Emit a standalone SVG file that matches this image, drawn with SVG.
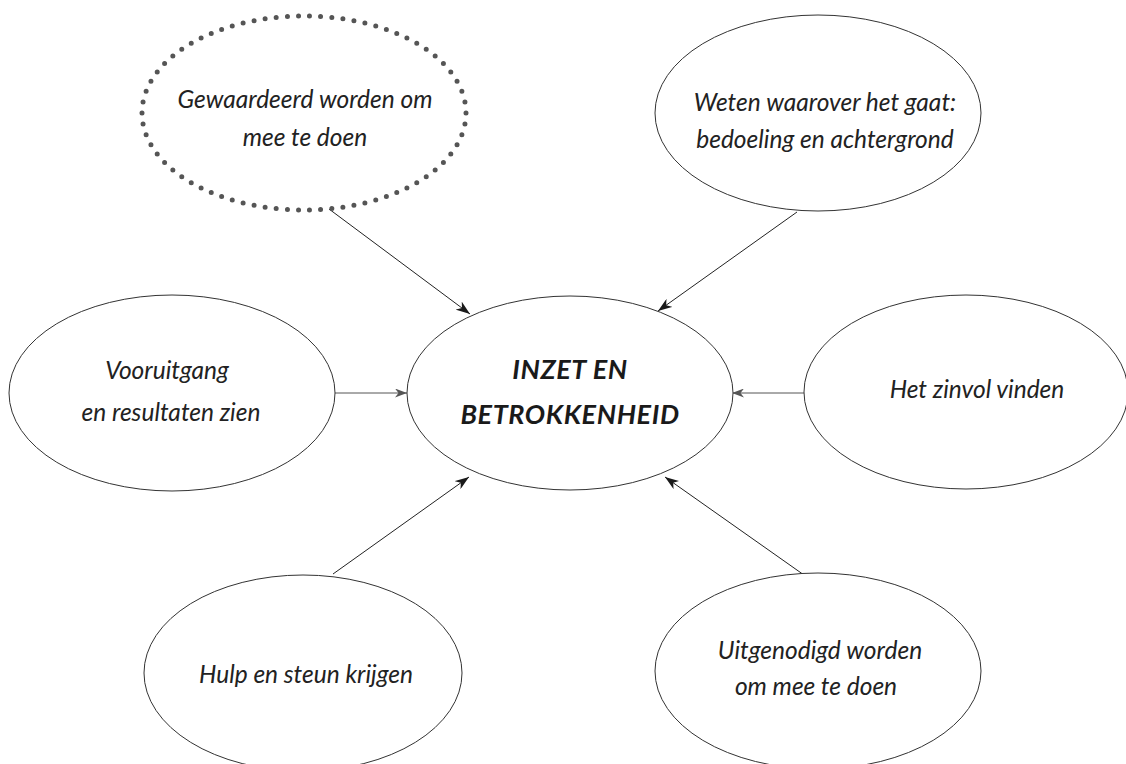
<svg xmlns="http://www.w3.org/2000/svg" width="1126" height="764" viewBox="0 0 1126 764">
<style>
.node ellipse{fill:#fff;stroke:#333;stroke-width:1}
.dotted{fill:#fff;stroke:#555;stroke-width:5;stroke-linecap:round;stroke-dasharray:0 1}
.lbl{font-family:Lato,"Liberation Sans",sans-serif;font-style:italic;font-size:24.5px;fill:#222;text-anchor:middle}
.main{font-family:Lato,"Liberation Sans",sans-serif;font-style:italic;font-weight:bold;font-size:27px;letter-spacing:0.6px;fill:#1a1a1a;text-anchor:middle}
.edge{stroke:#222;stroke-width:1;fill:none;marker-end:url(#ah)}
.edge.h{stroke:#555;marker-end:url(#ahg)}
</style>
<defs>
<marker id="ah" viewBox="0 0 14 10" markerWidth="14" markerHeight="10" refX="14" refY="5" orient="auto" markerUnits="userSpaceOnUse">
<path d="M0,0 L14,5 L0,10 L4,5 Z" fill="#1a1a1a"/>
</marker>
<marker id="ahg" viewBox="0 0 12 9" markerWidth="12" markerHeight="9" refX="12" refY="4.5" orient="auto" markerUnits="userSpaceOnUse">
<path d="M0,0 L12,4.5 L0,9 L3.5,4.5 Z" fill="#555"/>
</marker>
</defs>
<rect width="1126" height="764" fill="#fff"/>
<g id="connectors">
<line class="edge" x1="329" y1="209" x2="470" y2="314"/>
<line class="edge" x1="797" y1="212" x2="658" y2="311"/>
<line class="edge h" x1="335" y1="393" x2="407" y2="393"/>
<line class="edge h" x1="804" y1="393" x2="732" y2="393"/>
<line class="edge" x1="333" y1="574" x2="469" y2="477"/>
<line class="edge" x1="804" y1="575" x2="665" y2="477"/>
</g>
<g id="n-center" class="node">
<ellipse cx="570" cy="393" rx="163" ry="97"/>
<text class="main" x="570" y="379">INZET EN</text>
<text class="main" x="570" y="424">BETROKKENHEID</text>
</g>
<g id="n-gewaardeerd">
<ellipse class="dotted" cx="304" cy="113" rx="162" ry="97" pathLength="74"/>
<text class="lbl" x="305" y="108">Gewaardeerd worden om</text>
<text class="lbl" x="305" y="146">mee te doen</text>
</g>
<g id="n-weten" class="node">
<ellipse cx="818" cy="113" rx="163" ry="98"/>
<text class="lbl" x="825" y="111">Weten waarover het gaat:</text>
<text class="lbl" x="825" y="148">bedoeling en achtergrond</text>
</g>
<g id="n-vooruitgang" class="node">
<ellipse cx="172" cy="393" rx="163" ry="98"/>
<text class="lbl" x="167" y="379">Vooruitgang</text>
<text class="lbl" x="171" y="421">en resultaten zien</text>
</g>
<g id="n-zinvol" class="node">
<ellipse cx="966" cy="392" rx="162" ry="97"/>
<text class="lbl" x="977" y="398">Het zinvol vinden</text>
</g>
<g id="n-hulp" class="node">
<ellipse cx="303" cy="673" rx="159" ry="98"/>
<text class="lbl" x="306" y="683">Hulp en steun krijgen</text>
</g>
<g id="n-uitgenodigd" class="node">
<ellipse cx="818" cy="671" rx="163" ry="98"/>
<text class="lbl" x="820" y="659">Uitgenodigd worden</text>
<text class="lbl" x="816" y="695">om mee te doen</text>
</g>
</svg>
